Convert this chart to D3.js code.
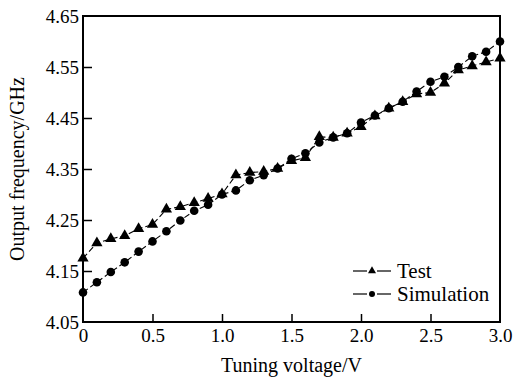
<!DOCTYPE html>
<html>
<head>
<meta charset="utf-8">
<script src="https://cdn.jsdelivr.net/npm/d3@7"></script>
<style>
  body { margin: 0; background: #fff; }
  text { font-family: "Liberation Serif", "Times New Roman", serif; fill: #000; }
</style>
</head>
<body>
<div id="chart"></div>
<script>
// data
const voltage = d3.range(31).map(i => +(i * 0.1).toFixed(1));
const testFreq = [4.175, 4.205, 4.213, 4.219, 4.233, 4.241, 4.271, 4.276, 4.284, 4.292,
  4.301, 4.338, 4.343, 4.345, 4.351, 4.366, 4.372, 4.413, 4.412, 4.420,
  4.433, 4.454, 4.469, 4.482, 4.497, 4.500, 4.518, 4.544, 4.552, 4.560, 4.567];
const simFreq = [4.108, 4.128, 4.148, 4.167, 4.188, 4.208, 4.228, 4.249, 4.268, 4.280,
  4.300, 4.308, 4.328, 4.338, 4.351, 4.370, 4.381, 4.402, 4.412, 4.420,
  4.441, 4.455, 4.469, 4.482, 4.502, 4.521, 4.531, 4.550, 4.571, 4.580, 4.600];
const xTicks = [0, 0.5, 1.0, 1.5, 2.0, 2.5, 3.0];
const yTicks = [4.05, 4.15, 4.25, 4.35, 4.45, 4.55, 4.65];

const width = 513, height = 380;
const margin = { top: 16, right: 13, bottom: 58, left: 83 };

const svg = d3.select("#chart").append("svg")
  .attr("width", width).attr("height", height);

const x = d3.scaleLinear().domain([0, 3]).range([margin.left, width - margin.right]);
const y = d3.scaleLinear().domain([4.05, 4.65]).range([height - margin.bottom, margin.top]);

// Axes (ticks point inward)
svg.append("g")
  .attr("transform", `translate(0,${height - margin.bottom})`)
  .call(d3.axisBottom(x).tickValues(xTicks).tickSize(-8).tickSizeOuter(0).tickPadding(9)
    .tickFormat((d, i) => i === 0 ? "0" : d3.format(".1f")(d)))
  .call(g => g.select(".domain").remove())
  .call(g => g.selectAll(".tick line").attr("stroke-width", 1.5)
    .filter(d => d === 0 || d === 3).remove())
  .call(g => g.selectAll(".tick text").attr("font-size", 19)
    .attr("font-family", "Liberation Serif").attr("dy", "0.6em"));

svg.append("g")
  .attr("transform", `translate(${margin.left},0)`)
  .call(d3.axisLeft(y).tickValues(yTicks).tickSize(-9).tickSizeOuter(0).tickPadding(4)
    .tickFormat(d3.format(".2f")))
  .call(g => g.select(".domain").remove())
  .call(g => g.selectAll(".tick line").attr("stroke-width", 1.5)
    .filter(d => d === 4.05 || d === 4.65).remove())
  .call(g => g.selectAll(".tick text").attr("font-size", 19)
    .attr("font-family", "Liberation Serif"));

// frame
svg.append("rect")
  .attr("x", margin.left).attr("y", margin.top)
  .attr("width", width - margin.left - margin.right)
  .attr("height", height - margin.top - margin.bottom)
  .attr("fill", "none").attr("stroke", "#000").attr("stroke-width", 2);

// axis titles
svg.append("text")
  .attr("x", (margin.left + width - margin.right) / 2).attr("y", 372)
  .attr("text-anchor", "middle").attr("font-size", 20)
  .text("Tuning voltage/V");

svg.append("text")
  .attr("transform", `translate(24,${(margin.top + height - margin.bottom) / 2}) rotate(-90)`)
  .attr("text-anchor", "middle").attr("font-size", 20)
  .text("Output frequency/GHz");

// series
const line = d3.line().x((d, i) => x(voltage[i])).y(d => y(d));
const tri = d3.symbol().type(d3.symbolTriangle).size(55);

const series = [
  { name: "Test", values: testFreq, marker: "tri" },
  { name: "Simulation", values: simFreq, marker: "circle" }
];

const plot = svg.append("g");

series.forEach(s => {
  plot.append("path")
    .attr("d", line(s.values))
    .attr("fill", "none").attr("stroke", "#000").attr("stroke-width", 1.1)
    .attr("stroke-dasharray", "6,3");
  const pts = plot.append("g").selectAll("*").data(s.values);
  if (s.marker === "tri") {
    pts.join("path")
      .attr("transform", (d, i) => `translate(${x(voltage[i])},${y(d)})`)
      .attr("d", tri).attr("fill", "#000");
  } else {
    pts.join("circle")
      .attr("cx", (d, i) => x(voltage[i])).attr("cy", d => y(d))
      .attr("r", 4.3).attr("fill", "#000");
  }
});

// legend
const legend = svg.append("g").attr("transform", "translate(353,271)");
series.forEach((s, i) => {
  const g = legend.append("g").attr("transform", `translate(0,${i * 23})`);
  g.append("line").attr("x1", 0).attr("x2", 14).attr("stroke", "#000").attr("stroke-width", 1.2);
  g.append("line").attr("x1", 24).attr("x2", 38).attr("stroke", "#000").attr("stroke-width", 1.2);
  if (s.marker === "tri") {
    g.append("path").attr("transform", "translate(19,0)")
      .attr("d", d3.symbol().type(d3.symbolTriangle).size(28)).attr("fill", "#000");
  } else {
    g.append("circle").attr("cx", 19).attr("r", 3).attr("fill", "#000");
  }
  g.append("text").attr("x", 44).attr("dy", "0.35em").attr("font-size", 21).text(s.name);
});
</script>
</body>
</html>
